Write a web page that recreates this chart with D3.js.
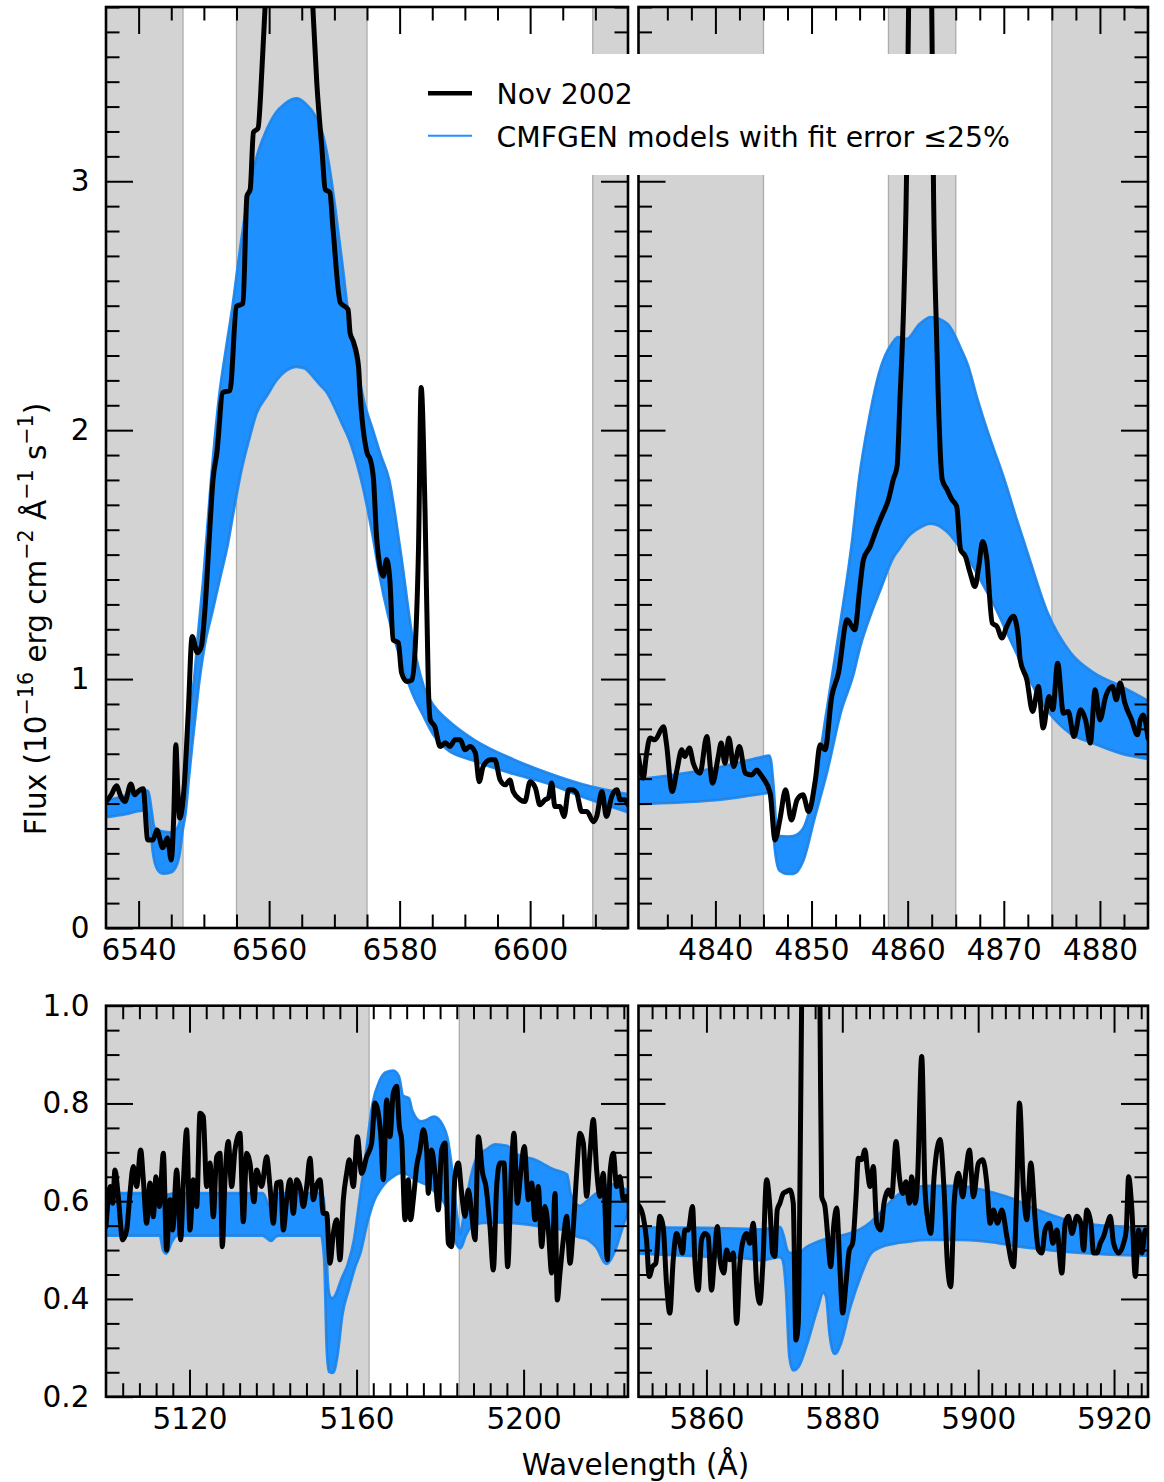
<!DOCTYPE html>
<html>
<head>
<meta charset="utf-8">
<script src="https://cdn.jsdelivr.net/npm/d3@7"></script>
<style>
  body { margin: 0; background: #fff; }
  svg { display: block; }
  text { white-space: pre; }
</style>
</head>
<body>
<svg id="fig" width="1164" height="1482"></svg>
<script>
// ---------------- H-alpha window ----------------
const HA_OBS_WAVE = [
  6535.0, 6535.8, 6536.6, 6537.3, 6537.9, 6538.8, 6539.4, 6539.9, 6540.7, 6541.4,
  6542.2, 6542.8, 6543.7, 6544.4, 6545.0, 6545.4, 6545.7, 6546.0, 6546.3, 6547.0,
  6547.6, 6548.2, 6549.0, 6549.6, 6550.2, 6550.9, 6551.4, 6552.0, 6552.9, 6554.0,
  6555.0, 6556.0, 6556.6, 6557.1, 6557.6, 6558.3, 6558.9, 6559.4, 6560.3, 6562.5,
  6565.5, 6566.7, 6567.3, 6568.1, 6568.6, 6569.3, 6569.8, 6570.9, 6572.1, 6572.4,
  6572.9, 6573.7, 6573.9, 6575.0, 6575.5, 6576.0, 6576.5, 6577.5, 6578.0, 6578.5,
  6579.0, 6579.8, 6580.3, 6581.1, 6581.9, 6582.4, 6582.9, 6583.3, 6583.9, 6584.4,
  6584.7, 6585.4, 6586.2, 6587.0, 6587.7, 6588.5, 6589.3, 6590.0, 6590.8, 6591.6,
  6592.2, 6592.8, 6593.9, 6594.6, 6595.4, 6596.2, 6596.9, 6597.4, 6598.5, 6599.2,
  6600.0, 6600.8, 6601.5, 6602.3, 6602.8, 6603.3, 6603.8, 6604.6, 6605.2, 6605.9,
  6606.4, 6607.1, 6607.9, 6608.7, 6609.7, 6610.2, 6611.0, 6611.7, 6612.5, 6613.3,
  6613.8, 6614.5, 6615.0
];
const HA_OBS_FLUX = [
  0.508, 0.535, 0.571, 0.527, 0.508, 0.579, 0.535, 0.548, 0.559, 0.354,
  0.354, 0.394, 0.322, 0.362, 0.273, 0.462, 0.736, 0.555, 0.442, 0.575,
  0.864, 1.171, 1.106, 1.131, 1.292, 1.600, 1.801, 1.910, 2.151, 2.159,
  2.497, 2.509, 2.940, 2.967, 3.197, 3.213, 3.450, 3.710, 4.300, 4.800,
  4.400, 3.700, 3.398, 3.128, 2.967, 2.955, 2.807, 2.513, 2.485, 2.392,
  2.356, 2.256, 2.163, 1.910, 1.882, 1.801, 1.560, 1.413, 1.480, 1.399,
  1.158, 1.146, 1.025, 0.990, 0.997, 1.131, 1.533, 2.171, 1.669, 0.970,
  0.836, 0.809, 0.729, 0.744, 0.729, 0.756, 0.756, 0.716, 0.729, 0.704,
  0.588, 0.649, 0.676, 0.676, 0.595, 0.575, 0.595, 0.548, 0.515, 0.508,
  0.588, 0.563, 0.495, 0.515, 0.523, 0.583, 0.488, 0.488, 0.448, 0.555,
  0.555, 0.543, 0.468, 0.468, 0.427, 0.448, 0.548, 0.448, 0.528, 0.555,
  0.515, 0.515, 0.495
];
const HA_MODEL_WAVE = [
  6535.0, 6538.0, 6540.6, 6541.4, 6541.9, 6542.3, 6543.0, 6543.8, 6544.8, 6545.6,
  6546.2, 6546.7, 6547.1, 6547.6, 6548.1, 6548.6, 6549.2, 6550.0, 6551.2, 6552.5,
  6553.5, 6554.5, 6555.5, 6556.8, 6558.0, 6559.6, 6561.0, 6562.5, 6564.2, 6565.5,
  6567.0, 6568.0, 6569.0, 6570.0, 6571.2, 6572.4, 6573.5, 6574.4, 6575.8, 6577.0,
  6578.3, 6580.0, 6582.1, 6583.6, 6585.2, 6587.2, 6591.3, 6597.4, 6602.5, 6608.0,
  6615.0
];
const HA_MODEL_LO = [
  0.448, 0.460, 0.474, 0.470, 0.400, 0.300, 0.235, 0.221, 0.225, 0.245,
  0.300, 0.400, 0.462, 0.600, 0.729, 0.850, 0.990, 1.131, 1.270, 1.420,
  1.533, 1.680, 1.820, 1.960, 2.070, 2.140, 2.200, 2.240, 2.257, 2.250,
  2.210, 2.180, 2.150, 2.100, 2.030, 1.960, 1.870, 1.780, 1.600, 1.420,
  1.260, 1.100, 0.940, 0.860, 0.780, 0.722, 0.675, 0.622, 0.585, 0.530,
  0.468
];
const HA_MODEL_HI = [
  0.510, 0.530, 0.552, 0.548, 0.470, 0.405, 0.390, 0.385, 0.382, 0.390,
  0.410, 0.470, 0.600, 0.760, 0.900, 1.000, 1.180, 1.400, 1.800, 2.150,
  2.330, 2.500, 2.700, 2.930, 3.080, 3.200, 3.270, 3.310, 3.330, 3.310,
  3.260, 3.200, 3.080, 2.900, 2.650, 2.390, 2.240, 2.120, 2.000, 1.900,
  1.800, 1.520, 1.131, 0.970, 0.890, 0.836, 0.755, 0.675, 0.622, 0.575,
  0.535
];
const HA_MASKS = [[6535, 6546.8], [6555, 6575], [6609.6, 6615]];
const HA_X_MAJOR = [6540, 6560, 6580, 6600];

// ---------------- H-beta window ----------------
const HB_OBS_WAVE = [
  4832.0, 4832.5, 4832.8, 4833.2, 4833.7, 4834.6, 4834.9, 4835.5, 4836.0, 4836.5,
  4836.8, 4837.3, 4837.7, 4838.4, 4839.1, 4839.7, 4840.3, 4840.6, 4841.0, 4841.4,
  4841.9, 4842.5, 4843.1, 4843.8, 4844.3, 4844.6, 4845.0, 4845.7, 4846.2, 4846.7,
  4847.3, 4847.9, 4848.5, 4849.1, 4849.7, 4850.4, 4850.9, 4851.4, 4852.1, 4852.8,
  4853.7, 4854.5, 4855.0, 4855.4, 4856.1, 4856.8, 4857.3, 4858.0, 4858.5, 4858.9,
  4859.2, 4859.6, 4859.9, 4860.1, 4860.6, 4861.4, 4862.2, 4862.5, 4862.7, 4863.0,
  4863.6, 4864.1, 4864.6, 4865.1, 4865.5, 4866.0, 4866.5, 4867.0, 4867.4, 4867.8,
  4868.2, 4868.8, 4869.3, 4869.8, 4870.3, 4871.0, 4871.5, 4871.7, 4872.4, 4873.0,
  4873.6, 4874.1, 4874.7, 4875.1, 4875.6, 4876.2, 4876.7, 4877.3, 4878.0, 4878.5,
  4879.0, 4879.5, 4880.0, 4880.6, 4881.3, 4881.7, 4882.1, 4882.6, 4883.3, 4883.9,
  4884.2, 4884.5, 4885.0
];
const HB_OBS_FLUX = [
  0.689, 0.602, 0.689, 0.763, 0.756, 0.809, 0.743, 0.548, 0.635, 0.716,
  0.689, 0.723, 0.662, 0.622, 0.769, 0.582, 0.689, 0.743, 0.662, 0.763,
  0.649, 0.729, 0.622, 0.615, 0.635, 0.622, 0.600, 0.542, 0.354, 0.434,
  0.555, 0.434, 0.515, 0.535, 0.468, 0.595, 0.736, 0.716, 0.930, 1.024,
  1.238, 1.198, 1.359, 1.480, 1.533, 1.607, 1.654, 1.721, 1.801, 1.855,
  2.123, 2.525, 3.061, 3.711, 4.600, 5.000, 4.600, 3.711, 2.927, 2.391,
  1.801, 1.761, 1.721, 1.694, 1.520, 1.493, 1.426, 1.372, 1.453, 1.553,
  1.493, 1.225, 1.211, 1.165, 1.211, 1.252, 1.171, 1.078, 0.997, 0.870,
  0.970, 0.803, 0.930, 0.877, 1.064, 0.863, 0.870, 0.769, 0.877, 0.836,
  0.743, 0.957, 0.836, 0.930, 0.970, 0.917, 0.984, 0.903, 0.836, 0.776,
  0.836, 0.856, 0.763
];
const HB_MODEL_WAVE = [
  4832.0, 4836.0, 4840.0, 4844.6, 4845.6, 4846.0, 4846.3, 4846.7, 4847.5, 4848.1,
  4849.1, 4850.2, 4851.6, 4853.0, 4854.3, 4855.0, 4856.1, 4857.1, 4858.5, 4859.0,
  4859.9, 4861.3, 4862.4, 4864.1, 4865.5, 4866.2, 4867.2, 4868.2, 4868.9, 4870.0,
  4871.2, 4872.4, 4874.5, 4876.9, 4879.3, 4882.1, 4885.0
];
const HB_MODEL_LO = [
  0.501, 0.506, 0.516, 0.540, 0.545, 0.420, 0.300, 0.233, 0.220, 0.220,
  0.273, 0.434, 0.635, 0.870, 1.020, 1.131, 1.260, 1.360, 1.493, 1.520,
  1.570, 1.612, 1.627, 1.595, 1.530, 1.493, 1.430, 1.359, 1.310, 1.220,
  1.120, 1.024, 0.880, 0.785, 0.745, 0.705, 0.682
];
const HB_MODEL_HI = [
  0.595, 0.615, 0.640, 0.682, 0.690, 0.560, 0.400, 0.367, 0.365, 0.367,
  0.394, 0.528, 0.863, 1.211, 1.560, 1.800, 2.056, 2.230, 2.351, 2.371,
  2.364, 2.425, 2.452, 2.425, 2.324, 2.260, 2.123, 2.000, 1.922, 1.800,
  1.650, 1.507, 1.265, 1.104, 1.024, 0.970, 0.910
];
const HB_MASKS = [[4832, 4845], [4858, 4865], [4875, 4885]];
const HB_X_MAJOR = [4840, 4850, 4860, 4870, 4880];

// ---------------- Fe II 5169 window ----------------
const FE_OBS_WAVE = [
  5100.0, 5100.5, 5101.0, 5101.6, 5102.15, 5102.95, 5103.99, 5104.95, 5105.74, 5106.54,
  5107.34, 5108.30, 5108.94, 5109.73, 5110.53, 5111.33, 5111.97, 5112.77, 5113.73, 5114.52,
  5115.32, 5115.96, 5116.92, 5117.88, 5118.52, 5119.31, 5120.11, 5120.91, 5121.71, 5122.51,
  5123.30, 5124.10, 5124.90, 5125.70, 5126.50, 5127.30, 5127.85, 5128.49, 5129.29, 5130.09,
  5130.89, 5132.08, 5132.88, 5133.68, 5134.48, 5135.44, 5136.08, 5137.27, 5138.47, 5139.27,
  5140.07, 5140.87, 5141.82, 5142.46, 5143.26, 5144.06, 5144.86, 5145.65, 5146.45, 5147.25,
  5148.05, 5148.85, 5149.65, 5150.44, 5151.24, 5152.04, 5152.84, 5153.64, 5154.44, 5155.23,
  5156.03, 5156.83, 5157.63, 5158.27, 5159.22, 5160.18, 5161.22, 5162.42, 5163.61, 5164.41,
  5165.77, 5166.41, 5167.21, 5168.00, 5168.80, 5169.60, 5170.24, 5170.80, 5171.60, 5172.39,
  5172.95, 5173.59, 5174.39, 5175.19, 5175.99, 5176.78, 5177.18, 5177.98, 5178.78, 5179.58,
  5180.38, 5181.17, 5181.97, 5182.77, 5183.57, 5184.37, 5185.17, 5185.96, 5186.76, 5187.56,
  5188.36, 5189.16, 5190.19, 5190.99, 5191.95, 5192.75, 5193.55, 5194.34, 5195.30, 5196.18,
  5197.14, 5197.70, 5198.50, 5199.29, 5200.17, 5201.13, 5201.93, 5202.73, 5203.52, 5204.32,
  5205.12, 5205.92, 5206.72, 5207.52, 5208.07, 5208.71, 5209.51, 5210.31, 5211.11, 5211.91,
  5212.70, 5213.50, 5214.30, 5215.10, 5215.90, 5216.70, 5217.49, 5218.29, 5219.09, 5220.05,
  5220.69, 5221.48, 5222.28, 5223.08, 5223.88, 5224.68, 5225.00
];
const FE_OBS_FLUX = [
  0.548, 0.603, 0.630, 0.596, 0.664, 0.609, 0.521, 0.541, 0.616, 0.671,
  0.630, 0.705, 0.644, 0.555, 0.637, 0.568, 0.650, 0.589, 0.698, 0.500,
  0.603, 0.541, 0.664, 0.521, 0.637, 0.746, 0.541, 0.644, 0.589, 0.780,
  0.773, 0.630, 0.678, 0.568, 0.691, 0.698, 0.507, 0.644, 0.722, 0.630,
  0.705, 0.739, 0.558, 0.698, 0.678, 0.599, 0.664, 0.630, 0.691, 0.630,
  0.555, 0.637, 0.640, 0.541, 0.603, 0.644, 0.575, 0.644, 0.630, 0.589,
  0.630, 0.688, 0.603, 0.633, 0.644, 0.575, 0.575, 0.473, 0.534, 0.562,
  0.480, 0.603, 0.657, 0.685, 0.630, 0.732, 0.657, 0.691, 0.719, 0.801,
  0.739, 0.644, 0.807, 0.732, 0.821, 0.835, 0.753, 0.726, 0.562, 0.644,
  0.562, 0.603, 0.671, 0.705, 0.746, 0.705, 0.616, 0.705, 0.657, 0.582,
  0.705, 0.719, 0.514, 0.507, 0.650, 0.678, 0.616, 0.569, 0.623, 0.575,
  0.521, 0.732, 0.657, 0.630, 0.548, 0.459, 0.630, 0.678, 0.678, 0.466,
  0.678, 0.739, 0.596, 0.657, 0.712, 0.603, 0.637, 0.562, 0.630, 0.507,
  0.589, 0.541, 0.453, 0.616, 0.398, 0.453, 0.521, 0.569, 0.473, 0.548,
  0.657, 0.739, 0.719, 0.610, 0.698, 0.767, 0.664, 0.610, 0.657, 0.480,
  0.657, 0.698, 0.630, 0.650, 0.603, 0.610, 0.603
];
const FE_MODEL_WAVE = [
  5100.0, 5113.0, 5113.8, 5114.4, 5115.5, 5117.0, 5137.5, 5138.8, 5139.5, 5140.5,
  5141.5, 5151.6, 5152.4, 5153.0, 5153.5, 5154.3, 5155.2, 5156.5, 5158.0, 5159.5,
  5160.8, 5162.4, 5164.0, 5165.6, 5167.0, 5168.8, 5170.0, 5171.0, 5172.4, 5173.2,
  5175.4, 5176.8, 5178.5, 5180.5, 5181.6, 5182.8, 5184.0, 5184.8, 5186.0, 5187.5,
  5189.0, 5191.2, 5193.2, 5196.0, 5198.3, 5202.3, 5207.1, 5210.3, 5211.1, 5213.5,
  5215.1, 5216.7, 5217.5, 5219.9, 5221.5, 5223.9, 5225.0
];
const FE_MODEL_LO = [
  0.531, 0.531, 0.500, 0.494, 0.515, 0.531, 0.531, 0.524, 0.520, 0.528,
  0.531, 0.531, 0.480, 0.300, 0.252, 0.250, 0.280, 0.370, 0.420, 0.465,
  0.495, 0.555, 0.600, 0.625, 0.640, 0.652, 0.658, 0.660, 0.655, 0.650,
  0.640, 0.635, 0.623, 0.605, 0.589, 0.550, 0.514, 0.505, 0.530, 0.550,
  0.555, 0.557, 0.558, 0.557, 0.556, 0.552, 0.545, 0.541, 0.536, 0.527,
  0.524, 0.514, 0.507, 0.473, 0.494, 0.555, 0.582
];
const FE_MODEL_HI = [
  0.615, 0.615, 0.615, 0.612, 0.614, 0.615, 0.615, 0.590, 0.578, 0.600,
  0.615, 0.615, 0.560, 0.430, 0.405, 0.400, 0.410, 0.440, 0.470, 0.520,
  0.600, 0.700, 0.800, 0.845, 0.862, 0.866, 0.855, 0.815, 0.810, 0.785,
  0.762, 0.765, 0.772, 0.755, 0.730, 0.660, 0.565, 0.530, 0.580, 0.650,
  0.690, 0.705, 0.715, 0.712, 0.695, 0.685, 0.664, 0.654, 0.616, 0.589,
  0.598, 0.610, 0.615, 0.630, 0.633, 0.625, 0.620
];
const FE_MASKS = [[5100, 5163], [5184.6, 5225]];
const FE_X_MAJOR = [5120, 5160, 5200];

// ---------------- He I 5876 window ----------------
const HE_OBS_WAVE = [
  5850.00, 5850.68, 5851.18, 5851.57, 5852.06, 5852.55, 5853.14, 5853.63, 5854.12, 5854.61,
  5855.11, 5855.60, 5856.09, 5856.48, 5856.82, 5857.32, 5857.95, 5858.30, 5858.79, 5859.28,
  5859.77, 5860.26, 5860.75, 5861.24, 5861.59, 5862.08, 5862.57, 5862.96, 5863.45, 5863.95,
  5864.44, 5864.93, 5865.42, 5865.91, 5866.40, 5866.89, 5867.38, 5867.87, 5868.30, 5868.85,
  5869.34, 5869.74, 5870.08, 5870.42, 5870.82, 5871.31, 5871.80, 5872.29, 5872.78, 5873.17,
  5873.52, 5873.76, 5874.01, 5874.80, 5875.90, 5876.71, 5876.96, 5877.45, 5877.94, 5878.28,
  5878.77, 5879.17, 5879.66, 5880.05, 5880.54, 5881.03, 5881.52, 5882.02, 5882.36, 5882.85,
  5883.34, 5883.69, 5884.08, 5884.57, 5885.06, 5885.65, 5886.14, 5886.78, 5887.27, 5887.91,
  5888.40, 5888.89, 5889.38, 5889.87, 5890.22, 5890.71, 5891.05, 5891.69, 5892.18, 5892.67,
  5893.02, 5893.51, 5894.39, 5894.98, 5895.47, 5895.96, 5896.46, 5897.09, 5897.73, 5898.22,
  5898.71, 5899.30, 5900.04, 5900.68, 5901.27, 5901.76, 5902.25, 5902.84, 5903.48, 5904.22,
  5905.20, 5905.69, 5906.08, 5906.67, 5907.16, 5907.75, 5908.39, 5908.88, 5909.37, 5909.86,
  5910.50, 5910.99, 5911.58, 5912.32, 5912.81, 5913.30, 5913.79, 5914.53, 5915.12, 5915.51,
  5916.00, 5916.59, 5916.99, 5917.48, 5917.97, 5918.46, 5919.05, 5919.44, 5919.93, 5920.67,
  5921.41, 5921.80, 5922.14, 5922.63, 5923.13, 5923.62, 5924.11, 5924.60, 5925.00
];
const HE_OBS_FLUX = [
  0.592, 0.569, 0.521, 0.446, 0.466, 0.473, 0.569, 0.548, 0.432, 0.371,
  0.480, 0.534, 0.514, 0.494, 0.541, 0.541, 0.589, 0.480, 0.418, 0.521,
  0.534, 0.528, 0.418, 0.500, 0.548, 0.473, 0.453, 0.500, 0.480, 0.494,
  0.350, 0.473, 0.521, 0.534, 0.514, 0.555, 0.432, 0.391, 0.470, 0.644,
  0.589, 0.494, 0.487, 0.582, 0.596, 0.616, 0.620, 0.623, 0.596, 0.316,
  0.350, 0.623, 1.000, 1.600, 1.600, 1.000, 0.610, 0.589, 0.514, 0.466,
  0.555, 0.586, 0.460, 0.371, 0.432, 0.500, 0.514, 0.609, 0.688, 0.685,
  0.705, 0.664, 0.630, 0.671, 0.555, 0.541, 0.596, 0.623, 0.609, 0.722,
  0.650, 0.616, 0.640, 0.596, 0.650, 0.596, 0.637, 0.896, 0.623, 0.555,
  0.534, 0.650, 0.726, 0.623, 0.473, 0.425, 0.596, 0.657, 0.609, 0.664,
  0.705, 0.609, 0.678, 0.685, 0.637, 0.555, 0.582, 0.555, 0.582, 0.528,
  0.466, 0.623, 0.801, 0.623, 0.562, 0.678, 0.562, 0.500, 0.494, 0.541,
  0.555, 0.514, 0.541, 0.453, 0.555, 0.569, 0.534, 0.569, 0.555, 0.500,
  0.582, 0.555, 0.494, 0.494, 0.514, 0.528, 0.555, 0.569, 0.514, 0.494,
  0.514, 0.541, 0.650, 0.582, 0.446, 0.541, 0.494, 0.541, 0.534
];
const HE_MODEL_WAVE = [
  5850.0, 5860.0, 5866.0, 5868.0, 5870.8, 5871.3, 5871.8, 5872.3, 5872.8, 5873.5,
  5874.75, 5876.2, 5877.2, 5877.7, 5878.2, 5878.9, 5879.7, 5881.1, 5882.6, 5884.1,
  5885.6, 5887.5, 5889.5, 5892.4, 5897.3, 5900.3, 5902.3, 5905.2, 5908.6, 5911.1,
  5914.5, 5919.4, 5925.0
];
const HE_MODEL_LO = [
  0.494, 0.488, 0.484, 0.480, 0.487, 0.480, 0.418, 0.282, 0.255, 0.262,
  0.309, 0.377, 0.415, 0.405, 0.330, 0.289, 0.309, 0.384, 0.446, 0.493,
  0.507, 0.514, 0.518, 0.522, 0.522, 0.520, 0.517, 0.510, 0.504, 0.500,
  0.496, 0.492, 0.490
];
const HE_MODEL_HI = [
  0.545, 0.544, 0.542, 0.541, 0.546, 0.528, 0.500, 0.493, 0.493, 0.492,
  0.505, 0.515, 0.520, 0.522, 0.524, 0.526, 0.528, 0.533, 0.541, 0.555,
  0.575, 0.603, 0.623, 0.630, 0.630, 0.623, 0.616, 0.603, 0.582, 0.569,
  0.555, 0.548, 0.545
];
const HE_MASKS = [[5850, 5925]];
const HE_X_MAJOR = [5860, 5880, 5900, 5920];

// ---------------- shared axis values and labels ----------------
const TOP_Y_MAJOR = [0, 1, 2, 3];
const BOTTOM_Y_MAJOR = [0.2, 0.4, 0.6, 0.8, 1.0];
const LEGEND_LABELS = ["Nov 2002", "CMFGEN models with fit error \u226425%"];
const X_TITLE = "Wavelength (\u00C5)";

// ---------------- drawing ----------------
const FF = "'DejaVu Sans', sans-serif";
const FS = 29.5;
const MAJ = 27, MIN = 13.5;
const BAND = "#1e90ff";
const svg = d3.select("#fig");

const panels = [
  { id: "ha", left: 106, right: 628, top: 7, bottom: 928,
    xDomain: [6535, 6615], yDomain: [0, 3.7],
    obsW: HA_OBS_WAVE, obsF: HA_OBS_FLUX, modW: HA_MODEL_WAVE, modLo: HA_MODEL_LO, modHi: HA_MODEL_HI,
    masks: HA_MASKS, xMajor: HA_X_MAJOR, xMinor: d3.range(6540, 6615, 5),
    yMajor: TOP_Y_MAJOR, yMinor: d3.range(1, 38).filter(i => i % 10).map(i => i / 10),
    yLabels: true, yFmt: d3.format("d") },
  { id: "hb", left: 638.5, right: 1148, top: 7, bottom: 928,
    xDomain: [4832, 4885], yDomain: [0, 3.7],
    obsW: HB_OBS_WAVE, obsF: HB_OBS_FLUX, modW: HB_MODEL_WAVE, modLo: HB_MODEL_LO, modHi: HB_MODEL_HI,
    masks: HB_MASKS, xMajor: HB_X_MAJOR, xMinor: d3.range(1, 21).map(i => 4832.5 + 2.5 * i),
    yMajor: TOP_Y_MAJOR, yMinor: d3.range(1, 38).filter(i => i % 10).map(i => i / 10),
    yLabels: false },
  { id: "fe", left: 106, right: 628, top: 1005.7, bottom: 1396.7,
    xDomain: [5100, 5225], yDomain: [0.2, 1.0],
    obsW: FE_OBS_WAVE, obsF: FE_OBS_FLUX, modW: FE_MODEL_WAVE, modLo: FE_MODEL_LO, modHi: FE_MODEL_HI,
    masks: FE_MASKS, xMajor: FE_X_MAJOR, xMinor: d3.range(1, 32).map(i => 5100 + 4 * i),
    yMajor: BOTTOM_Y_MAJOR, yMinor: d3.range(5, 20).filter(i => i % 4).map(i => i / 20),
    yLabels: true, yFmt: d3.format(".1f") },
  { id: "he", left: 638.5, right: 1148, top: 1005.7, bottom: 1396.7,
    xDomain: [5850, 5925], yDomain: [0.2, 1.0],
    obsW: HE_OBS_WAVE, obsF: HE_OBS_FLUX, modW: HE_MODEL_WAVE, modLo: HE_MODEL_LO, modHi: HE_MODEL_HI,
    masks: HE_MASKS, xMajor: HE_X_MAJOR, xMinor: d3.range(1, 38).map(i => 5850 + 2 * i),
    yMajor: BOTTOM_Y_MAJOR, yMinor: d3.range(5, 20).filter(i => i % 4).map(i => i / 20),
    yLabels: false }
];

const defs = svg.append("defs");

function styleAxis(sel) {
  sel.select(".domain").remove();
  sel.selectAll(".tick line").attr("stroke", "#000").attr("stroke-width", 2);
  sel.selectAll(".tick text").attr("fill", "#000").attr("font-size", FS).attr("font-family", FF);
}

function drawPanel(p) {
  const x = d3.scaleLinear().domain(p.xDomain).range([p.left, p.right]);
  const y = d3.scaleLinear().domain(p.yDomain).range([p.bottom, p.top]);
  const g = svg.append("g").attr("class", "panel-" + p.id);

  defs.append("clipPath").attr("id", "clip-" + p.id)
    .append("rect").attr("x", p.left).attr("y", p.top)
    .attr("width", p.right - p.left).attr("height", p.bottom - p.top);
  const plot = g.append("g").attr("clip-path", `url(#clip-${p.id})`);

  // excluded wavelength ranges (shaded)
  plot.selectAll("rect.mask").data(p.masks).join("rect").attr("class", "mask")
    .attr("x", d => x(d[0])).attr("width", d => x(d[1]) - x(d[0]))
    .attr("y", p.top).attr("height", p.bottom - p.top)
    .attr("fill", "#d3d3d3");
  const edges = p.masks.flat().filter(v => v > p.xDomain[0] && v < p.xDomain[1]);
  plot.selectAll("line.edge").data(edges).join("line").attr("class", "edge")
    .attr("x1", d => x(d)).attr("x2", d => x(d))
    .attr("y1", p.top).attr("y2", p.bottom)
    .attr("stroke", "#acacac").attr("stroke-width", 1.3);

  // model envelope
  const band = p.modW.map((w, i) => ({ w, lo: p.modLo[i], hi: p.modHi[i] }));
  const area = d3.area().x(d => x(d.w)).y0(d => y(d.lo)).y1(d => y(d.hi)).curve(d3.curveMonotoneX);
  plot.append("path").datum(band).attr("d", area)
    .attr("fill", BAND).attr("stroke", BAND).attr("stroke-width", 4).attr("stroke-linejoin", "round");
  ["lo", "hi"].forEach(k => {
    plot.append("path").datum(band)
      .attr("d", d3.line().x(d => x(d.w)).y(d => y(d[k])).curve(d3.curveMonotoneX))
      .attr("fill", "none").attr("stroke", "#3a72ad").attr("stroke-width", 0.9).attr("opacity", 0.85);
  });

  // observed spectrum
  const obs = p.obsW.map((w, i) => ({ w, f: p.obsF[i] }));
  plot.append("path").datum(obs)
    .attr("d", d3.line().x(d => x(d.w)).y(d => y(d.f)).curve(d3.curveMonotoneX))
    .attr("fill", "none").attr("stroke", "#000").attr("stroke-width", 5)
    .attr("stroke-linejoin", "round").attr("stroke-linecap", "round");

  // ticks on all four sides, pointing inward
  const xMinor = p.xMinor.filter(v => !p.xMajor.includes(v) && v > p.xDomain[0] && v < p.xDomain[1]);
  const yMinor = p.yMinor.filter(v => !p.yMajor.some(m => Math.abs(m - v) < 1e-9));

  g.append("g").attr("transform", `translate(0,${p.bottom})`)
    .call(d3.axisBottom(x).tickValues(p.xMajor).tickSize(-MAJ).tickPadding(11).tickFormat(d3.format("d")))
    .call(styleAxis);
  g.append("g").attr("transform", `translate(0,${p.bottom})`)
    .call(d3.axisBottom(x).tickValues(xMinor).tickSize(-MIN).tickFormat("")).call(styleAxis);
  g.append("g").attr("transform", `translate(0,${p.top})`)
    .call(d3.axisTop(x).tickValues(p.xMajor).tickSize(-MAJ).tickFormat("")).call(styleAxis);
  g.append("g").attr("transform", `translate(0,${p.top})`)
    .call(d3.axisTop(x).tickValues(xMinor).tickSize(-MIN).tickFormat("")).call(styleAxis);

  g.append("g").attr("transform", `translate(${p.left},0)`)
    .call(d3.axisLeft(y).tickValues(p.yMajor).tickSize(-MAJ).tickPadding(16.5)
      .tickFormat(p.yLabels ? p.yFmt : ""))
    .call(styleAxis);
  g.append("g").attr("transform", `translate(${p.left},0)`)
    .call(d3.axisLeft(y).tickValues(yMinor).tickSize(-MIN).tickFormat("")).call(styleAxis);
  g.append("g").attr("transform", `translate(${p.right},0)`)
    .call(d3.axisRight(y).tickValues(p.yMajor).tickSize(-MAJ).tickFormat("")).call(styleAxis);
  g.append("g").attr("transform", `translate(${p.right},0)`)
    .call(d3.axisRight(y).tickValues(yMinor).tickSize(-MIN).tickFormat("")).call(styleAxis);

  // frame
  g.append("rect").attr("x", p.left).attr("y", p.top)
    .attr("width", p.right - p.left).attr("height", p.bottom - p.top)
    .attr("fill", "none").attr("stroke", "#000").attr("stroke-width", 2.6);
}

panels.forEach(drawPanel);

// y-axis title with superscripts
const yt = svg.append("text")
  .attr("transform", "translate(46,619) rotate(-90)")
  .attr("text-anchor", "middle").attr("font-family", FF).attr("font-size", FS).attr("fill", "#000");
const SUP = 20.6, RAISE = 13;
[["Flux (10", 0], ["\u221216", 1], [" erg cm", 0], ["\u22122", 1], [" \u00C5", 0],
 ["\u22121", 1], [" s", 0], ["\u22121", 1], [")", 0]].reduce((prevSup, [t, sup]) => {
  const ts = yt.append("tspan").text(t);
  if (sup) ts.attr("font-size", SUP).attr("dy", prevSup ? 0 : -RAISE);
  else ts.attr("dy", prevSup ? RAISE : 0);
  return sup;
}, 0);

// x-axis title
svg.append("text").attr("x", 635.5).attr("y", 1475).attr("text-anchor", "middle")
  .attr("font-family", FF).attr("font-size", FS).attr("fill", "#000").text(X_TITLE);

// legend (drawn above everything)
const lg = svg.append("g");
lg.append("rect").attr("x", 417).attr("y", 54).attr("width", 605).attr("height", 121).attr("fill", "#fff");
lg.append("line").attr("x1", 428).attr("x2", 472).attr("y1", 93.3).attr("y2", 93.3)
  .attr("stroke", "#000").attr("stroke-width", 4.5);
lg.append("line").attr("x1", 428).attr("x2", 472).attr("y1", 135.7).attr("y2", 135.7)
  .attr("stroke", BAND).attr("stroke-width", 2);
lg.selectAll("text").data(LEGEND_LABELS).join("text")
  .attr("x", 496.5).attr("y", (d, i) => 104 + i * 42.5)
  .attr("font-family", FF).attr("font-size", 28.3).attr("fill", "#000").text(d => d);
</script>
</body>
</html>
